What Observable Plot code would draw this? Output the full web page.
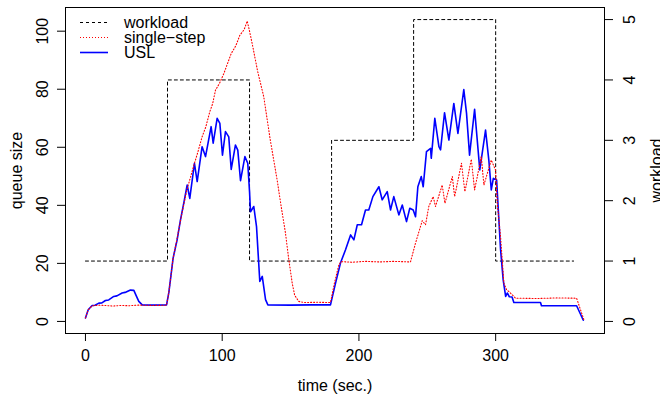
<!DOCTYPE html>
<html>
<head>
<meta charset="utf-8">
<script src="https://cdn.jsdelivr.net/npm/d3@7"></script>
<script src="https://cdn.jsdelivr.net/npm/@observablehq/plot@0.6"></script>
<style>
  html, body { margin: 0; padding: 0; background: white; }
  #chart { width: 660px; height: 401px; }
</style>
</head>
<body>
<div id="chart"></div>
<script>
// ---- data ----
const workloadTime = [0, 60, 120, 180, 240, 300, 357];
const workloadLevel = [1, 4, 1, 3, 5, 1, 1];

const uslTime = [0, 2, 4.9, 7, 9.8, 12, 14.6, 17, 20.7, 23, 26.8, 29, 32.9, 35.4, 37, 39, 41.5, 50, 59.3,
  61, 64.1, 67, 69.5, 72, 74.4, 76.3, 79.7, 81.7, 85.3, 87.8, 91.9, 93.4, 96.3, 98.3, 100.2, 102.4, 104.8,
  106.6, 109.7, 111.4, 113.4, 116.6, 118.7, 120, 120.7, 123.1, 125.1, 127.5, 129.3, 131.7, 133.4, 150, 165,
  179.2, 182.9, 186.5, 190.2, 193.9, 196.3, 198.8, 201.9, 204.8, 207.2, 210.2, 214.6, 217, 220.7, 223.1,
  225.5, 229.2, 231.7, 234.8, 237.2, 239.7, 241.4, 243.1, 245.6, 247, 249.4, 252.4, 252.9, 255.5, 258.5,
  259.7, 262.6, 265.8, 269.4, 272.4, 276.7, 278.7, 280.9, 284.6, 288.4, 292.6, 295, 296.8, 298.3, 300.7,
  303.6, 305.5, 307.3, 308.5, 310, 312, 313.3, 332.8, 333.5, 359.2, 364.1];
const uslQueue = [1.2, 4, 5.5, 5.6, 6.3, 6.4, 7.2, 7.4, 8.6, 8.8, 9.8, 10, 10.8, 10.7, 9, 6.9, 5.7, 5.6, 5.7,
  10, 21.8, 28, 35, 41, 47, 42.4, 54.5, 48.2, 60.2, 56.8, 67.1, 61.4, 70, 68.2, 57.3, 65.4, 63.6,
  52.4, 60.8, 59, 48.5, 56.8, 54.5, 44.7, 37.8, 39.6, 32.7, 13.8, 15.5, 7.5, 5.7, 5.6, 5.7,
  5.7, 13.2, 20.1, 24.7, 29.8, 28.1, 33.3, 33.3, 38.4, 38.4, 43, 46.4, 41.9, 44.7, 38.4,
  43, 36.7, 40.1, 34.4, 39, 38.4, 36.1, 46.4, 49.9, 46.4, 58.5, 59.6, 56.2, 70, 60.2,
  59.1, 71.9, 62.5, 75.1, 64.8, 79.9, 71.7, 57.3, 73.1, 52.2, 65.9, 55.6, 45.3, 49.3, 48.7,
  24.7, 14.3, 8.6, 9.8, 8.5, 8.4, 6.5, 6.5, 5.4, 5.4, 0.4];

const singleTime = [0, 2, 4.9, 10, 14, 20, 26, 32, 38, 42, 50, 59.3, 61, 64, 67, 70, 74, 77, 79.7, 82, 85.3,
  88, 90.9, 93, 95.1, 98, 101.2, 104, 106.6, 110, 112.9, 116, 118.3, 120, 121.9, 126, 130.4, 135, 140.2,
  143, 146.3, 148.5, 151.2, 153, 156, 160, 170, 179.2, 182, 185.3, 187, 195, 205, 215, 225, 237.7,
  241.4, 246.3, 248.7, 251.1, 254.3, 256, 260.9, 262.9, 268.3, 270, 275, 277.5, 282.2, 284.6, 289.5,
  291.4, 296.8, 299.9, 301.2, 303.6, 306, 308, 309.7, 314.6, 330, 345, 359.2, 364.5];
const singleQueue = [1.2, 4, 5.4, 5.6, 5.5, 5.3, 5.5, 5.4, 5.6, 5.6, 5.5, 5.6, 10, 21.5, 28.5, 36, 45, 50, 54.5, 58, 63.6,
  67, 72.2, 75, 79.7, 82, 85.4, 89, 92.3, 95, 98.6, 100.5, 103.5, 100, 95.8, 86, 77.4, 63, 48.7,
  40, 30.4, 22, 13.2, 9, 6.9, 6.5, 6.6, 6.5, 13, 19.5, 20.6, 20.4, 20.7, 20.5, 20.7, 20.5,
  27, 34.7, 33.3, 39.6, 43, 39.6, 47, 40.7, 49.9, 43, 54.5, 44.7, 55.9, 45.3, 56.8,
  47, 55.6, 52.2, 40.7, 29.2, 13.2, 10.9, 10.3, 8, 7.9, 8.1, 8, 0.6];

const xTicks = [0, 100, 200, 300];
const queueTicks = [0, 20, 40, 60, 80, 100];
const workloadTicks = [0, 1, 2, 3, 4, 5];
const seriesNames = ["workload", "single\u2212step", "USL"];

// ---- build tables ----
const K = 20.8; // workload -> queue-axis factor (secondary axis)
const workload = workloadTime.map((t, i) => ({t, w: workloadLevel[i]}));
const usl = uslTime.map((t, i) => ({t, q: uslQueue[i]}));
const single = singleTime.map((t, i) => ({t, q: singleQueue[i]}));

const FONT = "'Liberation Sans', Arial, Helvetica, sans-serif";

const chart = Plot.plot({
  width: 660,
  height: 401,
  marginLeft: 65,
  marginRight: 56,
  marginTop: 7,
  marginBottom: 68,
  style: {fontFamily: FONT, fontSize: "16px", background: "white", color: "black"},
  x: {domain: [-14.6, 379.6]},
  y: {domain: [-4.16, 108.16]},
  marks: [
    Plot.line(workload, {x: "t", y: d => d.w * K, curve: "step-after", stroke: "black", strokeWidth: 1, strokeDasharray: "3,3"}),
    Plot.line(usl, {x: "t", y: "q", stroke: "blue", strokeWidth: 1.6}),
    Plot.line(single, {x: "t", y: "q", stroke: "red", strokeWidth: 1.1, strokeDasharray: "1,2"}),
    Plot.frame({stroke: "black", strokeWidth: 1}),
    Plot.axisX({ticks: xTicks, tickSize: 8, tickPadding: 8.5, label: null, fontSize: 16}),
    Plot.axisY({ticks: queueTicks, anchor: "left", tickSize: 8, tickPadding: 9.5, tickRotate: -90, lineAnchor: "bottom", textAnchor: "middle", label: null, fontSize: 16}),
    Plot.axisY({ticks: workloadTicks.map(w => w * K), anchor: "right", tickSize: 8, tickPadding: 11.5, tickRotate: -90, lineAnchor: "top", textAnchor: "middle", tickFormat: d => String(Math.round(d / K)), label: null, fontSize: 16}),
    Plot.text(["queue size"], {frameAnchor: "left", dx: -48.4, rotate: -90, lineAnchor: "middle", textAnchor: "middle", fontSize: 16}),
    Plot.text(["workload"], {frameAnchor: "right", dx: 52, rotate: -90, lineAnchor: "middle", textAnchor: "middle", fontSize: 16}),
    Plot.text(["time (sec.)"], {frameAnchor: "bottom", dy: 57, lineAnchor: "bottom", textAnchor: "middle", fontSize: 16})
  ]
});

document.getElementById("chart").appendChild(chart);

// ---- legend (top-left, inside the box, no border) ----
const svg = d3.select(chart.tagName.toLowerCase() === "svg" ? chart : chart.querySelector("svg"));
const legendStyles = [
  {stroke: "black", dash: "3,3", width: 1},
  {stroke: "red", dash: "1,2", width: 1.1},
  {stroke: "blue", dash: null, width: 1.6}
];
const lg = svg.append("g").attr("font-family", FONT).attr("font-size", 16).attr("text-anchor", "start");
seriesNames.forEach((name, i) => {
  const y = 22.5 + i * 15;
  const s = legendStyles[i];
  const ln = lg.append("line").attr("x1", 80).attr("x2", 108).attr("y1", y).attr("y2", y)
    .attr("stroke", s.stroke).attr("stroke-width", s.width);
  if (s.dash) ln.attr("stroke-dasharray", s.dash);
  lg.append("text").attr("x", 124).attr("y", y).attr("dy", "0.35em").attr("fill", "black")
    .attr("text-anchor", "start").text(name);
});
</script>
</body>
</html>
